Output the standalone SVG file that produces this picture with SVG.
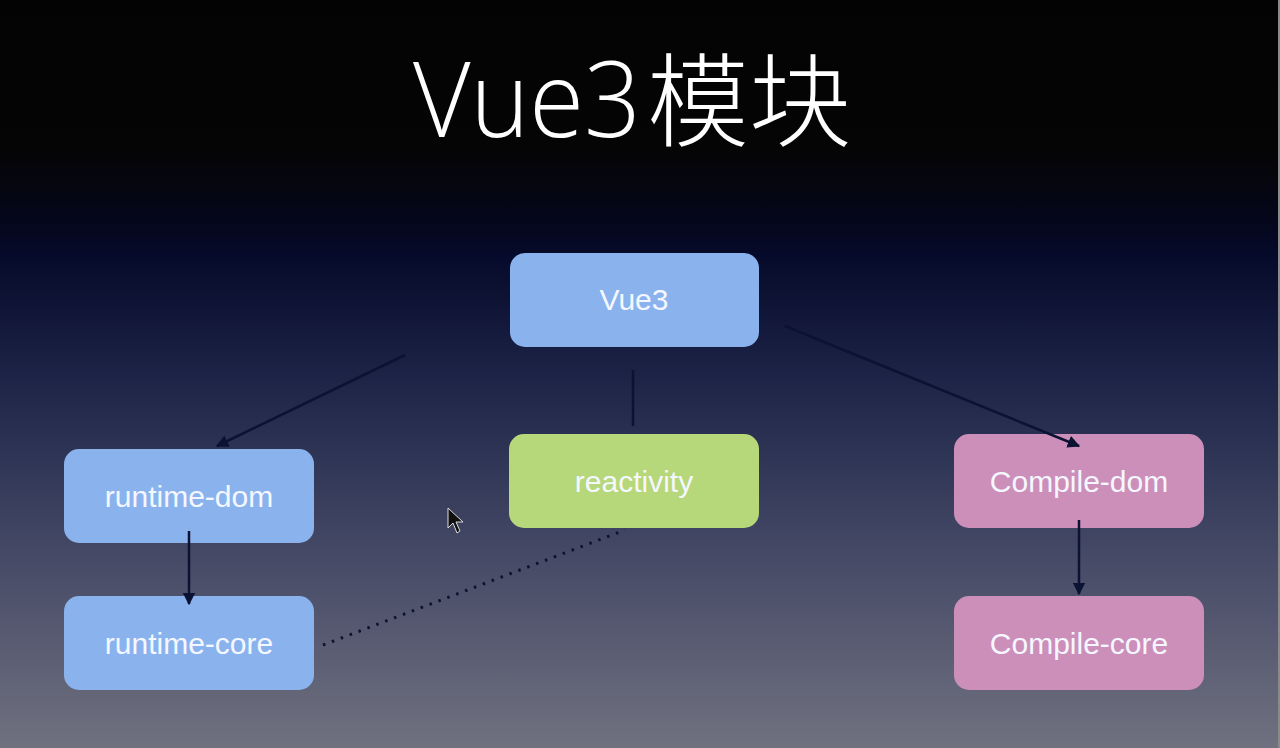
<svg xmlns="http://www.w3.org/2000/svg" width="1280" height="748" viewBox="0 0 1280 748">
  <defs>
    <linearGradient id="bg" x1="0" y1="0" x2="0" y2="748" gradientUnits="userSpaceOnUse">
      <stop offset="0" stop-color="#030303"/>
      <stop offset="0.2" stop-color="#050505"/>
      <stop offset="0.29" stop-color="#05061a"/>
      <stop offset="0.34" stop-color="#060a2a"/>
      <stop offset="0.5" stop-color="#1c2346"/>
      <stop offset="0.7" stop-color="#3e4361"/>
      <stop offset="0.85" stop-color="#575a71"/>
      <stop offset="1" stop-color="#70717f"/>
    </linearGradient>
    <marker id="arr" viewBox="0 0 10 10" refX="9" refY="5" markerWidth="5" markerHeight="5" orient="auto" markerUnits="strokeWidth">
      <path d="M0,0 L10,5 L0,10 z" fill="#0c1232"/>
    </marker>
  </defs>
  <style>
    .node rect { stroke: none; }
    .blue rect { fill: #8ab3ee; }
    .green rect { fill: #b6d87a; }
    .pink rect { fill: #cc8fba; }
    .node text { font-family: "Liberation Sans", Arial, sans-serif; font-size: 30px; fill: #f4f7ff; text-anchor: middle; }
    .edge { stroke: #0c1232; stroke-width: 2.5; fill: none; }
    .dot { stroke: #0c1232; stroke-width: 3; fill: none; stroke-dasharray: 2.5 7; }
    .title { fill: #ffffff; }
    .lat { font-family: "Open Sans", "Noto Sans", sans-serif; font-weight: 300; font-size: 106px; }
    .cjk { font-family: "Noto Sans CJK SC", "Noto Sans", sans-serif; font-weight: 300; font-size: 102px; }
  </style>
  <rect x="0" y="0" width="1280" height="748" fill="url(#bg)"/>
  <rect x="1278" y="0" width="2" height="748" fill="#8a8a8a"/>

  <text class="title" y="137"><tspan class="lat" x="413" textLength="228" lengthAdjust="spacingAndGlyphs">Vue3</tspan><tspan class="cjk" x="647" y="139">模块</tspan></text>

  <g id="vue3" class="node blue">
    <rect x="510" y="253" width="249" height="94" rx="15"/>
    <text x="634" y="310">Vue3</text>
  </g>
  <g id="reactivity" class="node green">
    <rect x="509" y="434" width="250" height="94" rx="15"/>
    <text x="634" y="492">reactivity</text>
  </g>
  <g id="runtime-dom" class="node blue">
    <rect x="64" y="449" width="250" height="94" rx="15"/>
    <text x="189" y="507">runtime-dom</text>
  </g>
  <g id="runtime-core" class="node blue">
    <rect x="64" y="596" width="250" height="94" rx="15"/>
    <text x="189" y="654">runtime-core</text>
  </g>
  <g id="compile-dom" class="node pink">
    <rect x="954" y="434" width="250" height="94" rx="15"/>
    <text x="1079" y="492">Compile-dom</text>
  </g>
  <g id="compile-core" class="node pink">
    <rect x="954" y="596" width="250" height="94" rx="15"/>
    <text x="1079" y="654">Compile-core</text>
  </g>

  <g id="connectors">
    <line class="edge" x1="405" y1="355" x2="217" y2="446" marker-end="url(#arr)"/>
    <line class="edge" x1="633" y1="370" x2="633" y2="426"/>
    <line class="edge" x1="785" y1="326" x2="1079" y2="446" marker-end="url(#arr)"/>
    <line class="edge" x1="189" y1="531" x2="189" y2="604" marker-end="url(#arr)"/>
    <line class="edge" x1="1079" y1="520" x2="1079" y2="594" marker-end="url(#arr)"/>
    <line class="dot" x1="323" y1="645" x2="625" y2="530"/>
  </g>

  <path d="M448,508 L448,528 L453,523 L457,533 L460,531 L456,522 L463,522 Z" fill="#111" stroke="#ddd" stroke-width="1"/>
</svg>
